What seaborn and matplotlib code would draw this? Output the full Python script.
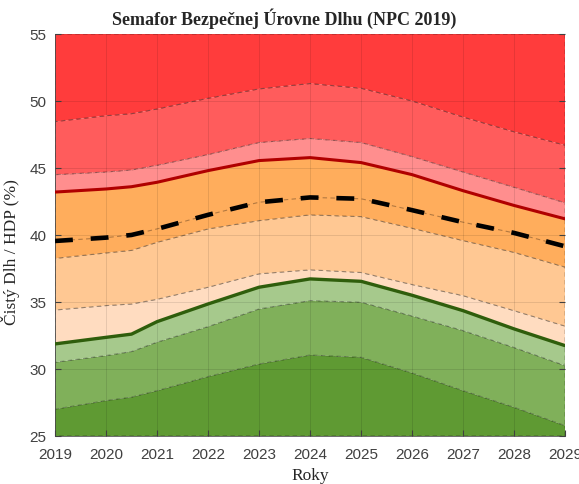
import matplotlib
matplotlib.use("Agg")
import matplotlib.pyplot as plt
import seaborn as sns
import numpy as np
import pandas as pd

years = [2019, 2020, 2020.5, 2021, 2022, 2023, 2024, 2025, 2026, 2027, 2028, 2029]
upper_red = [48.46, 48.9, 49.05, 49.4, 50.2, 50.9, 51.3, 50.95, 50.0, 48.8, 47.7, 46.7]
upper_pink = [44.5, 44.7, 44.85, 45.2, 46.0, 46.9, 47.2, 46.9, 45.85, 44.7, 43.56, 42.4]
limit_red = [43.2, 43.43, 43.6, 43.93, 44.8, 45.55, 45.77, 45.4, 44.5, 43.3, 42.2, 41.2]
median_debt = [39.55, 39.8, 40.0, 40.45, 41.5, 42.44, 42.8, 42.7, 41.85, 40.95, 40.15, 39.15]
orange_low = [38.25, 38.66, 38.85, 39.45, 40.45, 41.07, 41.5, 41.37, 40.5, 39.58, 38.7, 37.6]
peach_top = [34.4, 34.73, 34.85, 35.2, 36.1, 37.1, 37.4, 37.2, 36.3, 35.47, 34.35, 33.2]
limit_green = [31.87, 32.36, 32.6, 33.53, 34.85, 36.1, 36.72, 36.54, 35.5, 34.35, 32.99, 31.74]
green_mid = [30.5, 31.0, 31.3, 32.0, 33.16, 34.48, 35.1, 34.98, 33.95, 32.86, 31.6, 30.25]
green_low = [27.0, 27.64, 27.9, 28.38, 29.43, 30.37, 31.04, 30.87, 29.7, 28.38, 27.14, 25.77]

x_ticks = list(range(2019, 2030))
y_ticks = [25, 30, 35, 40, 45, 50, 55]

sns.set_style("ticks")
plt.rcParams['font.family'] = ['Liberation Sans', 'DejaVu Sans']
serif = ['Liberation Serif', 'DejaVu Serif']

fig = plt.figure(figsize=(5.79, 4.85), dpi=100)
ax = fig.add_axes([0.095, 0.099, 0.881, 0.829])

x = np.array(years)
bands = [
    (np.full(len(x), 25.0), green_low, '#5f9a33'),
    (green_low, green_mid, '#80b05a'),
    (green_mid, limit_green, '#a6c98c'),
    (limit_green, peach_top, '#ffdcc0'),
    (peach_top, orange_low, '#ffc893'),
    (orange_low, limit_red, '#ffad5c'),
    (limit_red, upper_pink, '#ff8e8e'),
    (upper_pink, upper_red, '#ff5c5c'),
    (upper_red, np.full(len(x), 55.0), '#ff3c3c'),
]
for lo, hi, c in bands:
    ax.fill_between(x, lo, hi, facecolor=c, edgecolor=(0, 0, 0, 0.3),
                    linestyle=(0, (4, 3)), linewidth=0.8, zorder=1)

df = pd.DataFrame({"Roky": years, "orange_low": orange_low, "median": median_debt,
                   "limit_red": limit_red, "limit_green": limit_green})
sns.lineplot(data=df, x="Roky", y="median", ax=ax, color=(0, 0, 0, 0.3), lw=0.8,
             linestyle=(0, (4, 3)), zorder=2)
sns.lineplot(data=df, x="Roky", y="limit_red", ax=ax, color='#b00000', lw=2.2, zorder=3)
sns.lineplot(data=df, x="Roky", y="limit_green", ax=ax, color='#2f5e0c', lw=2.4, zorder=3)
sns.lineplot(data=df, x="Roky", y="median", ax=ax, color='black', lw=3.3,
             linestyle=(0, (3.9, 3.9)), zorder=4)

ax.set_xlim(2019, 2029)
ax.set_ylim(25, 55)
ax.set_xticks(x_ticks)
ax.set_yticks(y_ticks)
ax.set_xticklabels([str(t) for t in x_ticks])
ax.set_yticklabels([str(t) for t in y_ticks])
ax.tick_params(axis='both', direction='in', labelsize=11, colors='#404040',
               length=4, right=True, top=False)
ax.tick_params(axis='x', pad=8)
ax.tick_params(axis='y', pad=6)
ax.grid(True, color='black', alpha=0.1, linewidth=0.7)
ax.set_axisbelow(False)
for s in ['top', 'right']:
    ax.spines[s].set_visible(False)
for s in ['left', 'bottom']:
    ax.spines[s].set_color('#555555')
    ax.spines[s].set_linewidth(0.6)

fig.text(0.49, 0.962, "Semafor Bezpečnej Úrovne Dlhu (NPC 2019)", family=serif,
         fontweight='bold', fontsize=13, ha='center', va='center')
ax.set_ylabel("Čistý Dlh / HDP (%)", family=serif, fontsize=12.5, labelpad=4)
ax.yaxis.set_label_coords(-0.068, 0.46)
ax.set_xlabel("Roky", family=serif, fontsize=12.5, labelpad=4)

fig.savefig("out.png", dpi=100)
